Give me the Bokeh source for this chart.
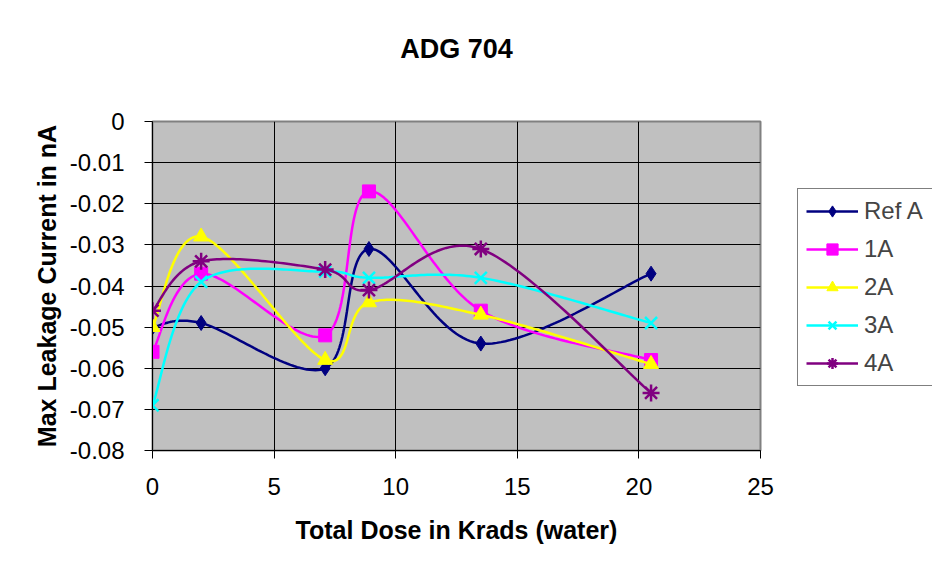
import numpy as np
from bokeh.plotting import figure
from bokeh.layouts import row
from bokeh.models import FixedTicker, Legend, LegendItem, Range1d, LinearAxis
from bokeh.embed import file_html
from bokeh.resources import INLINE

# ---- data ----
dose = [0, 2, 7.1, 8.9, 13.5, 20.5]
series_names = ["Ref A", "1A", "2A", "3A", "4A"]
ref_a = [-0.050, -0.049, -0.060, -0.031, -0.054, -0.037]
s_1a = [-0.056, -0.037, -0.052, -0.017, -0.046, -0.058]
s_2a = [-0.050, -0.028, -0.058, -0.044, -0.047, -0.059]
s_3a = [-0.069, -0.039, -0.0365, -0.038, -0.038, -0.049]
s_4a = [-0.046, -0.034, -0.036, -0.041, -0.031, -0.066]

x_ticks = [0, 5, 10, 15, 20, 25]
y_ticks = [0, -0.01, -0.02, -0.03, -0.04, -0.05, -0.06, -0.07, -0.08]
y_tick_labels = ["0", "-0.01", "-0.02", "-0.03", "-0.04", "-0.05", "-0.06", "-0.07", "-0.08"]
chart_title = "ADG 704"

colors = ["#000080", "#FF00FF", "#FFFF00", "#00FFFF", "#800080"]
markers = ["diamond", "square", "triangle", "x", "asterisk"]
msizes = [15, 13, 15, 17, 17]

FONT = "Liberation Sans"


def smooth(xs, ys, n=40):
    """Excel-style smoothed line: cubic Bezier with Catmull-Rom tangents."""
    xs = np.asarray(xs, float)
    ys = np.asarray(ys, float)
    px, py = [], []
    m = len(xs)
    for i in range(m - 1):
        i0 = max(i - 1, 0)
        i3 = min(i + 2, m - 1)
        p0 = np.array([xs[i], ys[i]])
        p3 = np.array([xs[i + 1], ys[i + 1]])
        c1 = p0 + (np.array([xs[i + 1], ys[i + 1]]) - np.array([xs[i0], ys[i0]])) / 6.0
        c2 = p3 - (np.array([xs[i3], ys[i3]]) - np.array([xs[i], ys[i]])) / 6.0
        t = np.linspace(0, 1, n)[:, None]
        pts = ((1 - t) ** 3) * p0 + 3 * ((1 - t) ** 2) * t * c1 + 3 * (1 - t) * t ** 2 * c2 + t ** 3 * p3
        if i > 0:
            pts = pts[1:]
        px.extend(pts[:, 0])
        py.extend(pts[:, 1])
    return px, py


p = figure(width=780, height=568, output_backend="svg", toolbar_location=None,
           x_range=Range1d(0, 25), y_range=Range1d(-0.08, 0), title=None,
           min_border_left=152, min_border_right=20, min_border_top=121, min_border_bottom=118)

p.background_fill_color = "#C0C0C0"
p.border_fill_color = "#FFFFFF"
p.outline_line_color = "#808080"
p.outline_line_width = 2

p.xgrid.ticker = FixedTicker(ticks=x_ticks)
p.ygrid.ticker = FixedTicker(ticks=y_ticks)
for g in (p.xgrid, p.ygrid):
    g.grid_line_color = "#000000"
    g.grid_line_width = 1

xa = p.below[0]
ya = p.left[0]
xa.ticker = FixedTicker(ticks=x_ticks)
ya.ticker = FixedTicker(ticks=y_ticks)
ya.major_label_overrides = {t: l for t, l in zip(y_ticks, y_tick_labels)}
for ax in (xa, ya):
    ax.axis_line_color = "#000000"
    ax.major_tick_line_color = "#000000"
    ax.major_tick_out = 8
    ax.major_tick_in = 0
    ax.minor_tick_line_color = None
    ax.major_label_text_font = FONT
    ax.major_label_text_font_size = "24px"
    ax.major_label_text_color = "#000000"
    ax.axis_label_text_font = FONT
    ax.axis_label_text_font_size = "25px"
    ax.axis_label_text_font_style = "bold"
    ax.axis_label_text_color = "#000000"
xa.major_label_standoff = 19
ya.major_label_standoff = 20
xa.axis_label = "Total Dose in Krads (water)"
ya.axis_label = "Max Leakage Current in nA"
xa.axis_label_standoff = 18
ya.axis_label_standoff = 6

# chart title (drawn as the label of a bare axis above the plot area)
ta = LinearAxis(axis_label=chart_title, ticker=FixedTicker(ticks=[]))
ta.axis_line_color = None
ta.major_tick_line_color = None
ta.minor_tick_line_color = None
ta.major_tick_out = 0
ta.major_tick_in = 0
ta.major_label_standoff = 0
ta.axis_label_text_font = FONT
ta.axis_label_text_font_size = "27px"
ta.axis_label_text_font_style = "bold"
ta.axis_label_text_color = "#000000"
ta.axis_label_standoff = 58
p.add_layout(ta, "above")

# legend panel (its frame is aligned with the main plot's frame by the row layout)
lf = figure(width=152, height=568, output_backend="svg", toolbar_location=None,
            x_axis_type=None, y_axis_type=None, min_border=0,
            x_range=Range1d(0, 25), y_range=Range1d(-0.08, 0))
lf.grid.visible = False
lf.outline_line_color = None
lf.background_fill_color = "#FFFFFF"

items = []
for name, ys, c, mk, ms in zip(series_names, [ref_a, s_1a, s_2a, s_3a, s_4a], colors, markers, msizes):
    sx, sy = smooth(dose, ys)
    p.line(sx, sy, line_color=c, line_width=2.5)
    kw = dict(marker=mk, size=ms, line_color=c, fill_color=c)
    if mk in ("x", "asterisk"):
        kw["line_width"] = 2.5
    p.scatter(dose, ys, **kw)
    # twins used only to draw the legend samples
    l_line = lf.line(sx, sy, line_color=c, line_width=2.5, visible=False)
    l_pts = lf.scatter(dose, ys, visible=False, **kw)
    items.append(LegendItem(label=name, renderers=[l_line, l_pts]))

legend = Legend(items=items, location=(17, 64))
legend.label_text_font = FONT
legend.label_text_font_size = "24px"
legend.glyph_width = 52
legend.glyph_height = 28
legend.label_height = 28
legend.label_width = 64
legend.spacing = 10
legend.padding = 8
legend.margin = 0
legend.label_standoff = 6
legend.border_line_color = "#000000"
legend.border_line_width = 1
legend.background_fill_color = "#FFFFFF"
legend.background_fill_alpha = 1
lf.add_layout(legend, "center")

layout = row(p, lf, spacing=0)
open("out.html", "w").write(file_html(layout, INLINE))
